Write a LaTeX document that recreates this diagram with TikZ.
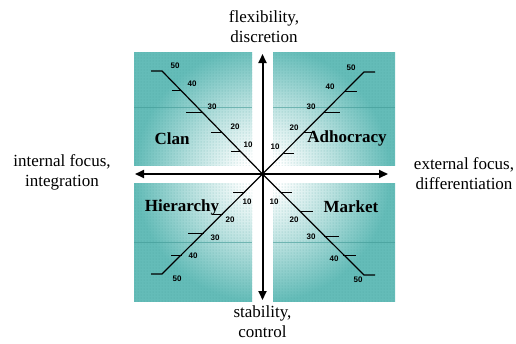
\documentclass[tikz,border=0pt]{standalone}
\usepackage{fontspec}
\setmainfont{Liberation Serif}
\newfontfamily\numfont{Liberation Sans}
\usetikzlibrary{arrows.meta,patterns}
\definecolor{tealc}{RGB}{100,188,184}
\definecolor{teald}{RGB}{62,152,148}
% radius 25bp of the shading is mapped onto the circle radius (200) below: 1bp = 8px
\pgfdeclareradialshading{glow}{\pgfpoint{0bp}{0bp}}{color(0bp)=(white); color(2.5bp)=(white); color(9bp)=(tealc!45!white); color(16bp)=(tealc); color(50bp)=(tealc)}
\tikzset{
  axis/.style={line width=2pt,-{Triangle[width=8pt,length=9pt]}},
  scaleline/.style={line width=1.2pt,black},
  tickmark/.style={line width=1pt,black},
  num/.style={font=\numfont\bfseries\fontsize{8}{9}\selectfont,inner sep=0pt},
  quad/.style={font=\bfseries\fontsize{17}{20}\selectfont,inner sep=0pt},
  axlabel/.style={font=\fontsize{17}{20}\selectfont,align=center,inner sep=0pt},
}
\begin{document}
\begin{tikzpicture}[x=1pt,y=-1pt]
\useasboundingbox (0,0) rectangle (516,343);
\coordinate (c) at (262.5,174);
% panels
\foreach \xa/\ya/\xb/\yb/\ly in {134/52/252/165/107, 273/52/395/165/107, 134/183/252/301/242, 273/183/395/301/242}{
  \begin{scope}
    \clip (\xa,\ya) rectangle (\xb,\yb);
    \shade[shading=glow] (c) circle (200);
    \fill[pattern=dots,pattern color=teald,opacity=0.5] (\xa,\ya) rectangle (\xb,\yb);
    \draw[teald,line width=0.8pt,opacity=0.6] (\xa,\ly) -- (\xb,\ly);
  \end{scope}
}
% axes
\coordinate (top) at (262.5,54);
\coordinate (bot) at (262.5,300);
\coordinate (lft) at (135,174);
\coordinate (rgt) at (388,174);
\draw[axis] (c) -- (top);
\draw[axis] (c) -- (bot);
\draw[axis] (c) -- (lft);
\draw[axis] (c) -- (rgt);
% scale lines
\coordinate (tl) at (162,71);
\coordinate (tr) at (364,72);
\coordinate (bl) at (162,274);
\coordinate (br) at (364,275);
\draw[scaleline] (151,71) -- (tl) -- (c);
\draw[scaleline] (375,72) -- (tr) -- (c);
\draw[scaleline] (151,274) -- (bl) -- (c);
\draw[scaleline] (375,275) -- (br) -- (c);
% ticks top-left
\draw[tickmark] (172,90) -- (180.5,90);
\draw[tickmark] (186,112) -- (202,112);
\draw[tickmark] (211,132) -- (221.5,132);
\draw[tickmark] (231,151) -- (240,151);
% ticks top-right
\draw[tickmark] (283.5,153) -- (294,153);
\draw[tickmark] (304,132) -- (314,132);
\draw[tickmark] (324,112) -- (340,112);
\draw[tickmark] (345,91) -- (357,91);
% ticks bottom-left
\draw[tickmark] (233,192) -- (244.5,192);
\draw[tickmark] (212,214) -- (222.5,214);
\draw[tickmark] (188,233) -- (203.5,233);
\draw[tickmark] (171,255) -- (181.5,255);
% ticks bottom-right
\draw[tickmark] (280.5,192) -- (292,192);
\draw[tickmark] (300.5,211) -- (313,211);
\draw[tickmark] (324,236) -- (339,236);
\draw[tickmark] (343,255) -- (356,255);
% numbers
\node[num] (n1) at (175,66) {50};
\node[num] (n2) at (192,84) {40};
\node[num] (n3) at (212,107) {30};
\node[num] (n4) at (235,127) {20};
\node[num] (n5) at (248,145) {10};
\node[num] (n6) at (351,68) {50};
\node[num] (n7) at (330,87) {40};
\node[num] (n8) at (311,107) {30};
\node[num] (n9) at (294,128) {20};
\node[num] (n10) at (275,147) {10};
\node[num] (n11) at (247,202) {10};
\node[num] (n12) at (230,220) {20};
\node[num] (n13) at (215,238) {30};
\node[num] (n14) at (193,256) {40};
\node[num] (n15) at (177,279) {50};
\node[num] (n16) at (274,202) {10};
\node[num] (n17) at (294,220) {20};
\node[num] (n18) at (311,237) {30};
\node[num] (n19) at (334,259) {40};
\node[num] (n20) at (358,280) {50};
% quadrant names
\node[quad] (clan) at (172,139) {Clan};
\node[quad] (adho) at (347,138) {Adhocracy};
\node[quad] (hier) at (182,207) {Hierarchy};
\node[quad] (mark) at (351,207) {Market};
% axis labels
\node[axlabel] (flex) at (264,27) {flexibility,\\discretion};
\node[axlabel] (stab) at (262.5,322) {stability,\\control};
\node[axlabel] (intl) at (62,172) {internal focus,\\integration};
\node[axlabel] (extl) at (464,174) {external focus,\\differentiation};
\end{tikzpicture}
\end{document}
